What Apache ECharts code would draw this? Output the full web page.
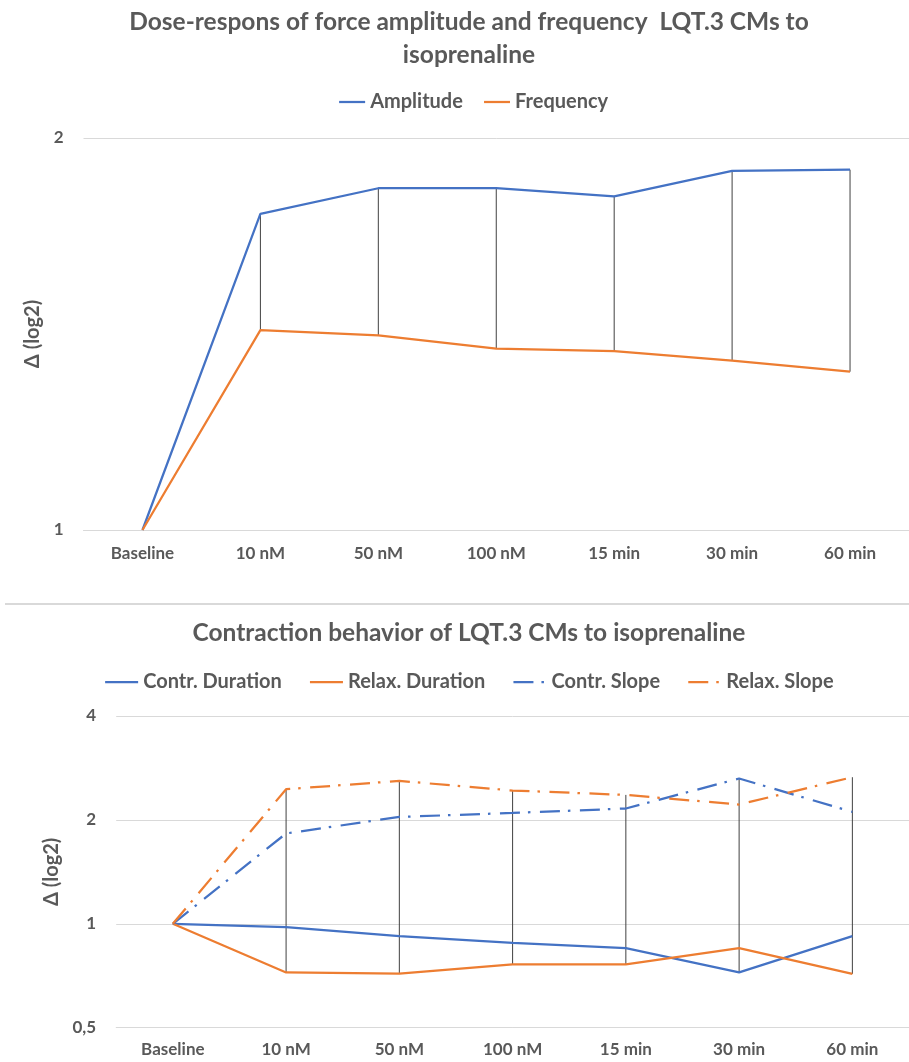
<!DOCTYPE html>
<html>
<head>
<meta charset="utf-8">
<script src="https://cdn.jsdelivr.net/npm/echarts@6/dist/echarts.min.js"></script>
<style>
  html, body { margin: 0; padding: 0; background: #ffffff; }
  #chart { width: 909px; height: 1062px; }
</style>
</head>
<body>
<div id="chart"></div>
<script>
// Time points / isoprenaline doses
const categories = ['Baseline', '10 nM', '50 nM', '100 nM', '15 min', '30 min', '60 min'];

// Upper panel: force amplitude and beating frequency (fold change)
const amplitude = [1, 1.749, 1.830, 1.830, 1.804, 1.887, 1.891];
const frequency = [1, 1.424, 1.411, 1.378, 1.372, 1.349, 1.323];

// Lower panel: contraction behaviour (fold change)
const contrDuration = [1, 0.978, 0.921, 0.881, 0.850, 0.723, 0.921];
const relaxDuration = [1, 0.723, 0.717, 0.763, 0.763, 0.850, 0.716];
const contrSlope    = [1, 1.827, 2.040, 2.095, 2.158, 2.636, 2.110];
const relaxSlope    = [1, 2.454, 2.594, 2.433, 2.363, 2.216, 2.659];

const BLUE = '#4472C4';
const ORANGE = '#ED7D31';
const TEXT = '#595959';
const GRID = '#D9D9D9';
const FONT = 'Lato, "Open Sans", sans-serif';
const DASH_DOT = [20, 8, 2.5, 9.5];

// High-low range per category across a group of series
function highLow(seriesList) {
  return categories.map((c, i) => {
    const vals = seriesList.map(s => s[i]);
    return [i, Math.max.apply(null, vals), Math.min.apply(null, vals)];
  });
}

function highLowSeries(gridIdx, seriesList) {
  return {
    type: 'custom',
    xAxisIndex: gridIdx,
    yAxisIndex: gridIdx,
    z: 1,
    silent: true,
    encode: { x: 0, y: [1, 2] },
    data: highLow(seriesList),
    renderItem: function (params, api) {
      const top = api.coord([api.value(0), api.value(1)]);
      const bot = api.coord([api.value(0), api.value(2)]);
      return {
        type: 'line',
        shape: { x1: top[0], y1: top[1], x2: bot[0], y2: bot[1] },
        style: { stroke: '#404040', lineWidth: 1 }
      };
    }
  };
}

function lineSeries(name, data, color, gridIdx, dashed) {
  return {
    name: name,
    type: 'line',
    xAxisIndex: gridIdx,
    yAxisIndex: gridIdx,
    data: data,
    symbol: 'none',
    z: 3,
    color: color,
    lineStyle: { color: color, width: 2.25, type: dashed ? DASH_DOT : 'solid', cap: 'butt' }
  };
}

function catAxis(gridIdx, margin) {
  return {
    type: 'category',
    gridIndex: gridIdx,
    data: categories,
    boundaryGap: true,
    axisTick: { show: false },
    axisLine: { show: true, lineStyle: { color: GRID, width: 1 } },
    axisLabel: { color: TEXT, fontFamily: FONT, fontWeight: 'bold', fontSize: 17, margin: margin }
  };
}

function logAxis(gridIdx, min, max, nameGap) {
  return {
    type: 'log',
    logBase: 2,
    gridIndex: gridIdx,
    min: min,
    max: max,
    name: 'Δ (log2)',
    nameLocation: 'middle',
    nameRotate: 90,
    nameGap: nameGap,
    nameTextStyle: { color: TEXT, fontFamily: FONT, fontWeight: 'bold', fontSize: 20 },
    axisLine: { show: false },
    axisTick: { show: false },
    splitLine: { show: true, lineStyle: { color: GRID, width: 1 } },
    axisLabel: {
      color: TEXT, fontFamily: FONT, fontWeight: 'bold', fontSize: 17, margin: 20,
      formatter: v => String(Math.round(v * 1000) / 1000).replace('.', ',')
    }
  };
}

function titleLine(text, top) {
  return {
    text: text,
    left: 469,
    textAlign: 'center',
    top: top,
    padding: 0,
    textStyle: { color: TEXT, fontFamily: FONT, fontWeight: 'bold', fontSize: 24.5, lineHeight: 30 }
  };
}

const legendBase = {
  padding: 0,
  itemHeight: 14,
  itemStyle: { opacity: 0 },
  lineStyle: { width: 2.25 },
  textStyle: { color: TEXT, fontFamily: FONT, fontWeight: 'bold', fontSize: 20 }
};

const chart = echarts.init(document.getElementById('chart'), null, { renderer: 'canvas' });

chart.setOption({
  backgroundColor: '#ffffff',
  animation: false,
  title: [
    titleLine('Dose-respons of force amplitude and frequency  LQT.3 CMs to', 7),
    titleLine('isoprenaline', 40),
    titleLine('Contraction behavior of LQT.3 CMs to isoprenaline', 618)
  ],
  legend: [
    Object.assign({}, legendBase, {
      data: ['Amplitude', 'Frequency'],
      left: 338,
      top: 92,
      itemWidth: 26,
      itemGap: 20
    }),
    Object.assign({}, legendBase, {
      data: ['Contr. Duration', 'Relax. Duration', 'Contr. Slope', 'Relax. Slope'],
      left: 104,
      top: 672,
      itemWidth: 33,
      itemGap: 27
    })
  ],
  graphic: [
    {
      type: 'line',
      shape: { x1: 5, y1: 604, x2: 909, y2: 604 },
      style: { stroke: GRID, lineWidth: 2 },
      silent: true
    }
  ],
  grid: [
    { left: 83.5, top: 138, width: 833, height: 392 },
    { left: 116.2, top: 716, width: 800, height: 311.7 }
  ],
  xAxis: [catAxis(0, 15), catAxis(1, 13)],
  yAxis: [logAxis(0, 1, 2, 34), logAxis(1, 0.5, 4, 49)],
  series: [
    highLowSeries(0, [amplitude, frequency]),
    lineSeries('Amplitude', amplitude, BLUE, 0, false),
    lineSeries('Frequency', frequency, ORANGE, 0, false),
    highLowSeries(1, [contrDuration, relaxDuration, contrSlope, relaxSlope]),
    lineSeries('Contr. Duration', contrDuration, BLUE, 1, false),
    lineSeries('Relax. Duration', relaxDuration, ORANGE, 1, false),
    lineSeries('Contr. Slope', contrSlope, BLUE, 1, true),
    lineSeries('Relax. Slope', relaxSlope, ORANGE, 1, true)
  ]
});
</script>
</body>
</html>
